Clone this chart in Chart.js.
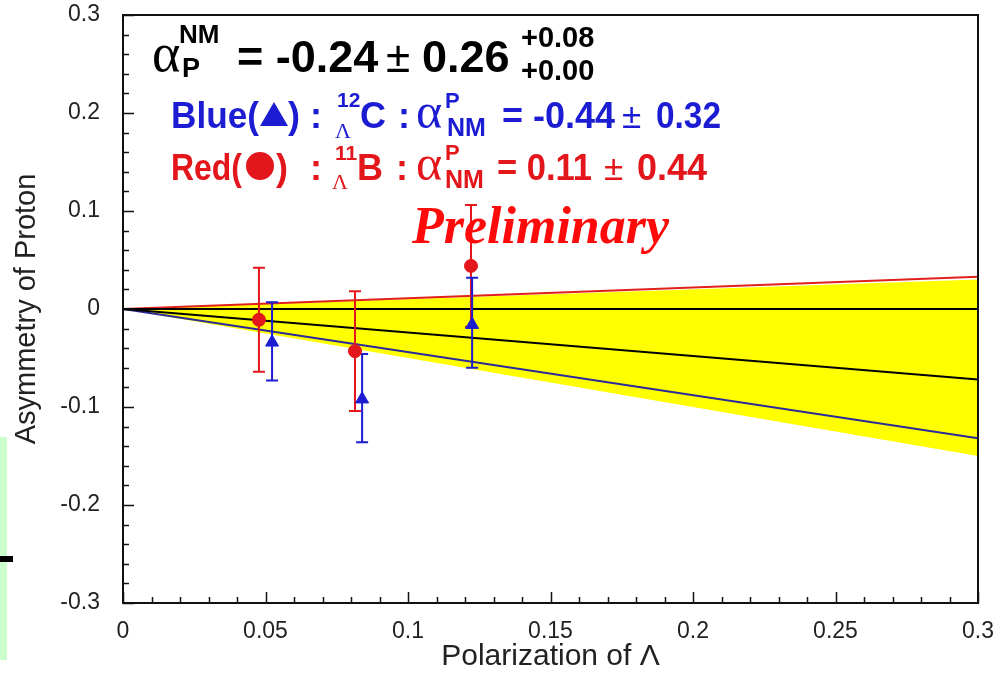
<!DOCTYPE html>
<html>
<head>
<meta charset="utf-8">
<script src="https://cdn.jsdelivr.net/npm/chart.js@4.4.1/dist/chart.umd.min.js"></script>
<style>
  html, body { margin: 0; padding: 0; background: #fff; }
  #wrap { width: 1008px; height: 673px; }
</style>
</head>
<body>
<div id="wrap"><canvas id="chart" width="1008" height="673"></canvas></div>
<script>
// values
var xTicks = [0, 0.05, 0.1, 0.15, 0.2, 0.25, 0.3];
var xTickLabels = ["0", "0.05", "0.1", "0.15", "0.2", "0.25", "0.3"];
var yTicks = [-0.3, -0.2, -0.1, 0, 0.1, 0.2, 0.3];
var yTickLabels = ["-0.3", "-0.2", "-0.1", "0", "0.1", "0.2", "0.3"];

// Blue triangles: 12C
var blueX = [0.0523, 0.0839, 0.1225];
var blueY = [-0.034, -0.092, -0.016];
var blueHi = [0.007, -0.046, 0.032];
var blueLo = [-0.073, -0.136, -0.060];

// Red circles: 11B
var redX = [0.0477, 0.0814, 0.1221];
var redY = [-0.011, -0.043, 0.044];
var redHi = [0.042, 0.018, 0.106];
var redLo = [-0.064, -0.104, -0.018];

// straight lines from the origin, end points at P = 0.3
var lineX = [0, 0.3];
var redFit = [0, 0.033];
var blueFit = [0, -0.132];
var meanFit = [0, -0.072];
var zeroLine = [0, 0];
var bandHigh = [0, 0.030];
var bandLow = [0, -0.150];

var SANS = '"Liberation Sans", Arial, Helvetica, sans-serif';
var SERIF = '"Liberation Serif", "Times New Roman", serif';
var RED = "#e3161c";
var BLUE = "#1c1cd2";

function pts(xs, ys) {
  return xs.map(function (x, i) { return {x: x, y: ys[i]}; });
}

function lineSet(ys, color, order) {
  return {
    type: "line", data: pts(lineX, ys), borderColor: color, borderWidth: 2,
    pointRadius: 0, fill: false, order: order
  };
}

// light green strip and dash at the left edge (part of the slide)
var slideBits = {
  id: "slideBits",
  beforeDraw: function (chart) {
    var ctx = chart.ctx;
    ctx.save();
    ctx.fillStyle = "#ccffcc";
    ctx.fillRect(0, 437, 7, 223);
    ctx.fillStyle = "#000";
    ctx.fillRect(0, 556, 13, 6);
    ctx.restore();
  }
};

// error bars, drawn just before the red markers
var errorBars = {
  id: "errorBars",
  beforeDatasetDraw: function (chart, args) {
    if (args.index !== 0) return;
    var ctx = chart.ctx, xs = chart.scales.x, ys = chart.scales.y;
    function bars(xv, hi, lo, color) {
      ctx.strokeStyle = color;
      ctx.lineWidth = 2;
      for (var i = 0; i < xv.length; i++) {
        var px = xs.getPixelForValue(xv[i]);
        var top = ys.getPixelForValue(hi[i]);
        var bot = ys.getPixelForValue(lo[i]);
        ctx.beginPath();
        ctx.moveTo(px, top); ctx.lineTo(px, bot);
        ctx.moveTo(px - 6, top); ctx.lineTo(px + 6, top);
        ctx.moveTo(px - 6, bot); ctx.lineTo(px + 6, bot);
        ctx.stroke();
      }
    }
    ctx.save();
    bars(redX, redHi, redLo, RED);
    bars(blueX, blueHi, blueLo, BLUE);
    ctx.restore();
  }
};

// frame with inward ticks on the left and bottom
var frame = {
  id: "frame",
  afterDatasetsDraw: function (chart) {
    var ctx = chart.ctx, a = chart.chartArea, xs = chart.scales.x, ys = chart.scales.y;
    ctx.save();
    ctx.strokeStyle = "#111";
    ctx.lineWidth = 2;
    ctx.strokeRect(a.left, a.top, a.right - a.left, a.bottom - a.top);
    ctx.beginPath();
    for (var i = 0; i <= 30; i++) {
      var px = Math.round(xs.getPixelForValue(i / 100)) + 0.5;
      var len = (i % 5 === 0) ? 11 : 6;
      ctx.moveTo(px, a.bottom); ctx.lineTo(px, a.bottom - len);
    }
    for (var j = -15; j <= 15; j++) {
      var py = Math.round(ys.getPixelForValue(j / 50)) + 0.5;
      var l2 = (j % 5 === 0) ? 11 : 6;
      ctx.moveTo(a.left, py); ctx.lineTo(a.left + l2, py);
    }
    ctx.lineWidth = 1.5;
    ctx.stroke();
    ctx.restore();
  }
};

// the formula texts and "Preliminary"
var notes = {
  id: "notes",
  afterDraw: function (chart) {
    var ctx = chart.ctx;
    // w: squeeze the text to this width (the original font is narrower)
    function t(s, x, y, font, color, w) {
      ctx.font = font;
      ctx.fillStyle = color;
      ctx.textAlign = "left";
      var real = ctx.measureText(s).width;
      if (w && real > w) {
        ctx.save();
        ctx.translate(x, y);
        ctx.scale(w / real, 1);
        ctx.fillText(s, 0, 0);
        ctx.restore();
      } else {
        ctx.fillText(s, x, y);
      }
    }
    function tri(x0, x1, yb, yt, color) {
      ctx.fillStyle = color;
      ctx.beginPath();
      ctx.moveTo(x0, yb); ctx.lineTo(x1, yb); ctx.lineTo((x0 + x1) / 2, yt);
      ctx.closePath(); ctx.fill();
    }
    function dot(cx, cy, r, color) {
      ctx.fillStyle = color;
      ctx.beginPath();
      ctx.arc(cx, cy, r, 0, Math.PI * 2);
      ctx.fill();
    }
    ctx.save();
    ctx.textBaseline = "alphabetic";
    var B36 = "bold 36px " + SANS;
    // line 1
    var K = "#000";
    t("\u03b1", 152, 71, "54px " + SERIF, K);
    t("NM", 179, 43, "bold 26px " + SANS, K);
    t("P", 182, 77, "bold 27px " + SANS, K);
    t("= -0.24", 237, 72, "bold 45px " + SANS, K);
    t("\u00b1", 386, 72, "44px " + SANS, K);
    t("0.26", 422, 72, "bold 45px " + SANS, K);
    t("+0.08", 521, 47, "bold 29px " + SANS, K);
    t("+0.00", 521, 80, "bold 29px " + SANS, K);
    // line 2
    t("Blue(", 171, 128, B36, BLUE, 88);
    tri(260, 288, 126, 102, BLUE);
    t(")", 288, 128, B36, BLUE);
    t(":", 310, 128, B36, BLUE);
    t("12", 337, 107, "bold 21px " + SANS, BLUE);
    t("\u039b", 335, 138, "22px " + SERIF, BLUE);
    t("C", 360, 128, B36, BLUE);
    t(":", 398, 128, B36, BLUE);
    t("\u03b1", 416, 128, "50px " + SERIF, BLUE);
    t("P", 445, 108, "bold 22px " + SANS, BLUE);
    t("NM", 447, 136, "bold 25px " + SANS, BLUE);
    t("= -0.44", 502, 128, B36, BLUE);
    t("\u00b1", 622, 128, "35px " + SANS, BLUE);
    t("0.32", 656, 128, B36, BLUE, 65);
    // line 3
    t("Red(", 171, 180, B36, RED, 71);
    dot(260, 166, 14, RED);
    t(")", 276, 180, B36, RED);
    t(":", 310, 180, B36, RED);
    t("11", 335, 160, "bold 21px " + SANS, RED);
    t("\u039b", 332, 189, "22px " + SERIF, RED);
    t("B", 357, 180, B36, RED);
    t(":", 396, 180, B36, RED);
    t("\u03b1", 416, 180, "50px " + SERIF, RED);
    t("P", 445, 160, "bold 22px " + SANS, RED);
    t("NM", 445, 188, "bold 25px " + SANS, RED);
    t("= 0.11", 497, 180, B36, RED, 95);
    t("\u00b1", 604, 180, "35px " + SANS, RED);
    t("0.44", 637, 180, B36, RED, 70);
    // preliminary
    t("Preliminary", 412, 243, "italic bold 52px " + SERIF, "#ff0a0a");
    ctx.restore();
  }
};

var chart = new Chart(document.getElementById("chart"), {
  type: "scatter",
  data: {
    datasets: [
      {
        label: "11B", data: pts(redX, redY), backgroundColor: RED, borderColor: RED,
        pointStyle: "circle", pointRadius: 6.5, pointHoverRadius: 6.5, order: 1
      },
      {
        label: "12C", data: pts(blueX, blueY), backgroundColor: BLUE, borderColor: BLUE,
        pointStyle: "triangle", pointRadius: 7.5, pointHoverRadius: 7.5, order: 0
      },
      lineSet(zeroLine, "#000", 5),
      lineSet(meanFit, "#000", 5),
      lineSet(redFit, "#e0201c", 5),
      lineSet(blueFit, "#2a2a9a", 5),
      {
        type: "line", data: pts(lineX, bandHigh), borderWidth: 0, borderColor: "rgba(0,0,0,0)",
        pointRadius: 0, fill: false, order: 10
      },
      {
        type: "line", data: pts(lineX, bandLow), borderWidth: 0, borderColor: "rgba(0,0,0,0)",
        backgroundColor: "#ffff00", pointRadius: 0, fill: "-1", order: 9
      }
    ]
  },
  options: {
    responsive: false,
    animation: false,
    devicePixelRatio: 1,
    layout: {padding: {left: 0, right: 30, top: 15, bottom: 0}},
    plugins: {legend: {display: false}, tooltip: {enabled: false}},
    scales: {
      x: {
        type: "linear", min: 0, max: 0.3,
        afterBuildTicks: function (s) { s.ticks = xTicks.map(function (v) { return {value: v}; }); },
        afterFit: function (s) { s.height = 70; s.paddingLeft = 0; s.paddingRight = 0; },
        grid: {display: false, drawTicks: false},
        border: {display: false},
        ticks: {
          autoSkip: false, maxRotation: 0, padding: 15, color: "#222",
          font: {family: SANS, size: 23},
          callback: function (v, i) { return xTickLabels[i]; }
        },
        title: {
          display: true, text: "Polarization of \u039b", color: "#222",
          font: {family: SANS, size: 30, lineHeight: 1}, padding: {top: 0, bottom: 1}
        }
      },
      y: {
        type: "linear", min: -0.3, max: 0.3,
        afterBuildTicks: function (s) { s.ticks = yTicks.map(function (v) { return {value: v}; }); },
        afterFit: function (s) { s.width = 123; s.paddingTop = 0; s.paddingBottom = 0; },
        grid: {display: false, drawTicks: false},
        border: {display: false},
        ticks: {
          autoSkip: false, padding: 23, color: "#222",
          font: {family: SANS, size: 23},
          callback: function (v, i) { return yTickLabels[i]; }
        },
        title: {
          display: true, text: "Asymmetry of Proton", color: "#222",
          font: {family: SANS, size: 29, lineHeight: 1}, padding: {top: 12, bottom: 0}
        }
      }
    }
  },
  plugins: [slideBits, errorBars, frame, notes]
});
</script>
</body>
</html>
